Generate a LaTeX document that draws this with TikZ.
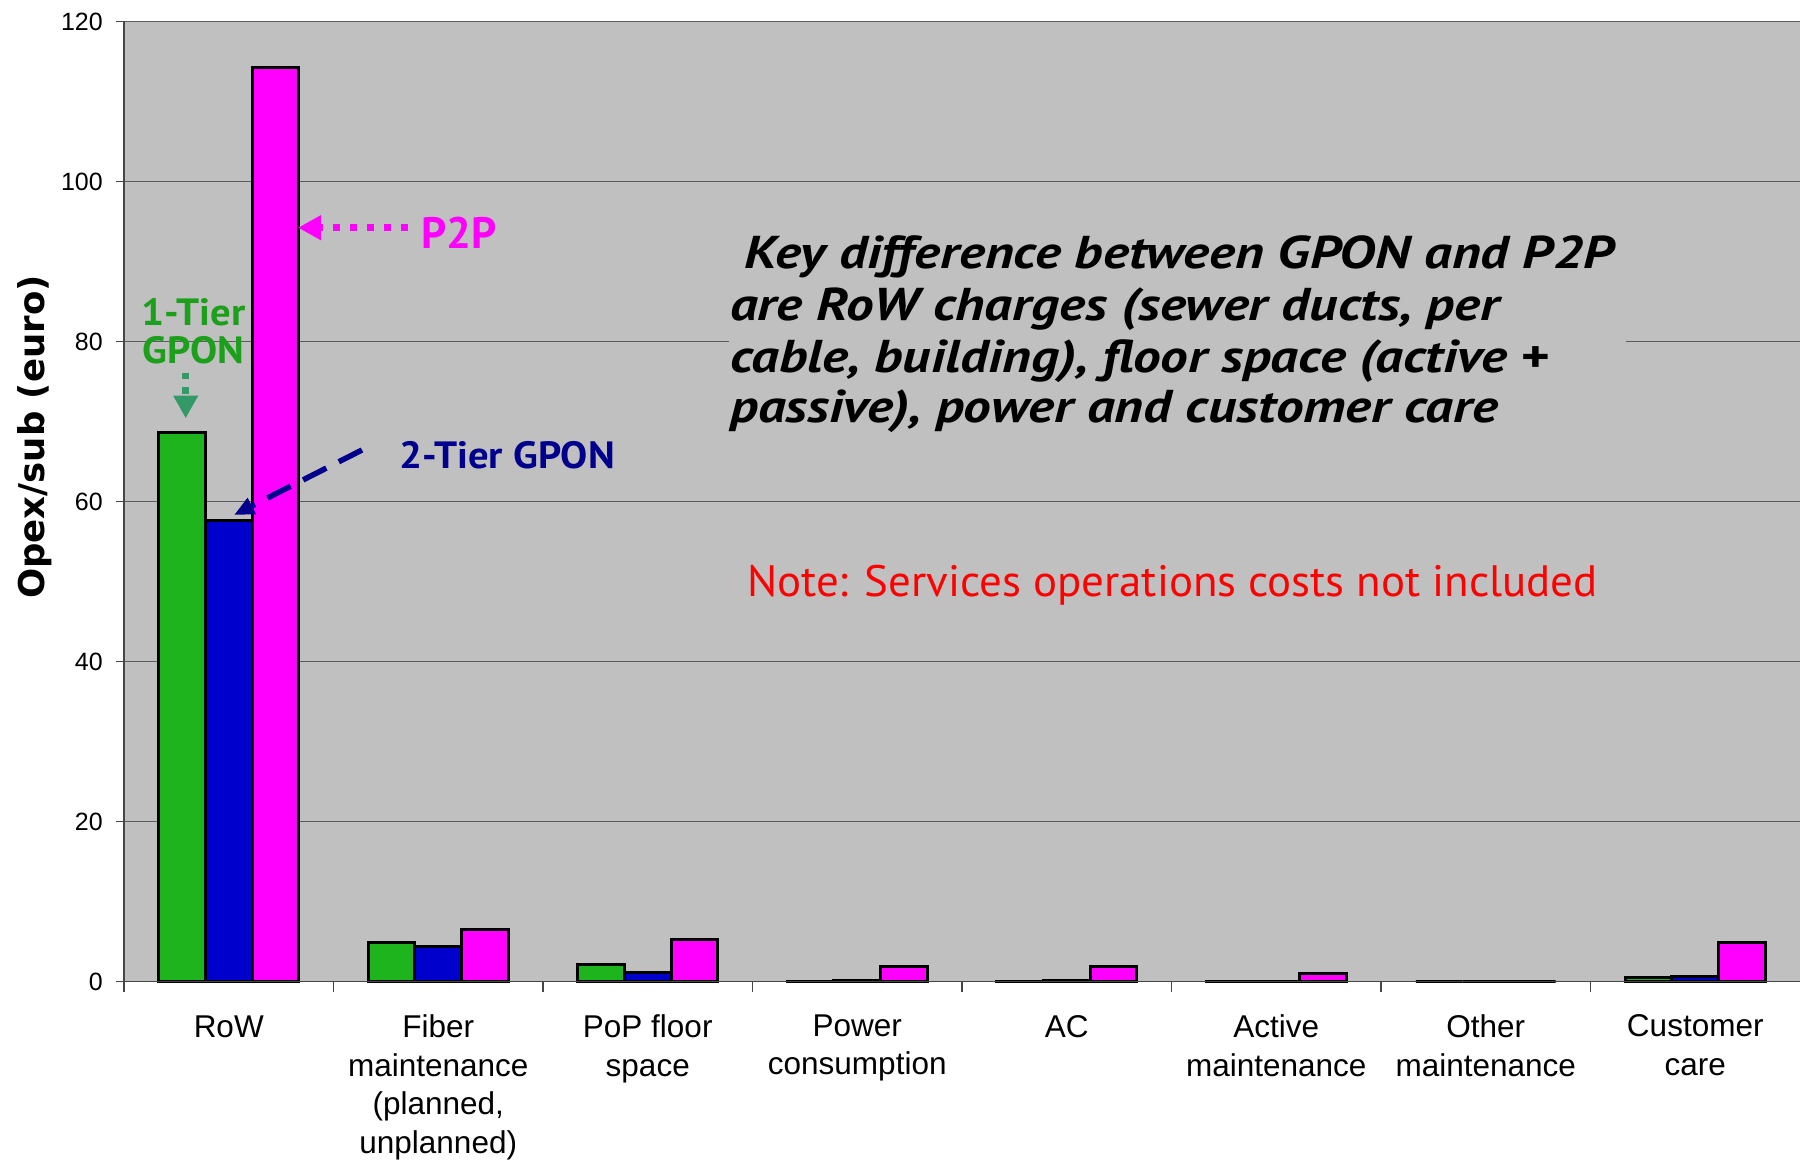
\documentclass[tikz,border=0pt]{standalone}
\usepackage{fontspec}
\setmainfont{Liberation Sans}
\newfontfamily\calloutfont[FakeStretch=1.07]{PT Sans}
\newfontfamily\ptpfont{PT Sans}
\newfontfamily\notefont[FakeStretch=1.02]{PT Sans}
\newfontfamily\keyfont[FakeStretch=1.2]{PT Sans}
\newfontfamily\axisfont{DejaVu Sans}
\usetikzlibrary{arrows.meta}

\definecolor{plotbg}{RGB}{192,192,192}
\definecolor{gridc}{RGB}{92,92,92}
\definecolor{axisc}{RGB}{70,70,70}
\definecolor{tiergreen}{RGB}{30,180,30}
\definecolor{tierblue}{RGB}{0,0,205}
\definecolor{ptpmag}{RGB}{255,0,255}
\definecolor{lblgreen}{RGB}{28,160,28}
\definecolor{arrgreen}{RGB}{51,153,102}
\definecolor{navyc}{RGB}{0,0,140}
\definecolor{notered}{RGB}{255,0,0}

\tikzset{
  gridline/.style={draw=gridc, line width=1.8pt},
  axisline/.style={draw=axisc, line width=1.8pt},
  barbox/.style={draw=black, line width=3pt},
  ticklabel/.style={anchor=east, inner sep=0pt, font=\fontsize{25}{30}\selectfont},
  catlabel/.style={anchor=north, inner sep=0pt, align=center,
    font=\fontsize{31.5}{38.6}\selectfont, execute at begin node={\vphantom{Ab}}},
  callout/.style={inner sep=0pt, font=\calloutfont\bfseries\fontsize{38}{38}\selectfont},
  keyline/.style={anchor=base west, inner sep=0pt,
    font=\keyfont\bfseries\itshape\fontsize{46}{46}\selectfont},
}

\begin{document}
\begin{tikzpicture}[x=1pt, y=-1pt]
\useasboundingbox (0,0) rectangle (1800,1161);
\fill[white] (0,0) rectangle (1800,1161);

% plot area and grid
\fill[plotbg] (124,21.5) rectangle (1800,981.5);
\foreach \v in {20,40,...,120}
  \draw[gridline] (124,{981.5-8*\v}) -- (1800,{981.5-8*\v});

% background of the text box hides the grid line behind it
\fill[plotbg] (729,300) rectangle (1626,400);

% bars: category index / 1-tier GPON / 2-tier GPON / P2P
\foreach \i/\g/\b/\m in {0/68.6/57.6/114.3, 1/4.85/4.4/6.45, 2/2.1/1.15/5.3,
    3/0.05/0.15/1.85, 4/0.05/0.15/1.85, 5/0.02/0.02/1.0, 6/0/0/0, 7/0.5/0.6/4.9}{
  \pgfmathsetmacro\xa{124+209.5*\i+34.9}
  \draw[barbox, fill=tiergreen] (\xa,981.5) rectangle ({\xa+46.55},{981.5-8*\g});
  \draw[barbox, fill=tierblue] ({\xa+46.55},981.5) rectangle ({\xa+93.1},{981.5-8*\b});
  \draw[barbox, fill=ptpmag] ({\xa+93.1},981.5) rectangle ({\xa+139.65},{981.5-8*\m});
}

% axes and ticks
\draw[axisline] (124,21.5) -- (124,981.5) -- (1800,981.5);
\foreach \v in {0,20,...,120}{
  \draw[axisline] (116,{981.5-8*\v}) -- (124,{981.5-8*\v});
  \node[ticklabel] (ytick\v) at (103,{981.5-8*\v}) {\v};
}
\foreach \i in {0,...,7}
  \draw[axisline] ({124+209.5*\i},981.5) -- ({124+209.5*\i},991.5);

% category labels
\foreach \i/\txt in {0/RoW, 1/{Fiber\\maintenance\\(planned,\\unplanned)},
    2/{PoP floor\\space}, 3/{Power\\consumption}, 4/AC,
    5/{Active\\maintenance}, 6/{Other\\maintenance}, 7/{Customer\\care}}
  \node[catlabel] (cat\i) at ({124+209.5*(\i+0.5)},1014.5) {\txt};

% y axis title
\node[rotate=90, inner sep=0pt, font=\axisfont\bfseries\fontsize{35.5}{42}\selectfont]
  (ytitle) at (35,437) {Opex/sub (euro)};

% callouts
\node[callout, text=lblgreen, anchor=base] (tierone) at (193.5,325) {1-Tier};
\node[callout, text=lblgreen, anchor=base] (tieronegpon) at (193.5,363.3) {GPON};
\coordinate (tieronefrom) at (185.7,372.7);
\coordinate (tieroneto) at (185.7,418.3);
\draw[arrgreen, line width=6.5pt, dash pattern=on 6.6pt off 8pt,
  -{Triangle[length=22.6pt, width=23.3pt]}] (tieronefrom) -- (tieroneto);

\node[anchor=base west, inner sep=0pt, text=ptpmag,
  font=\ptpfont\bfseries\fontsize{44}{44}\selectfont]
  (ptplabel) at (421,249) {P2P};
\coordinate (ptpfrom) at (408,227.7);
\coordinate (ptpto) at (298,227.7);
\draw[ptpmag, line width=7pt, dash pattern=on 7pt off 10pt,
  -{Triangle[length=23pt, width=23.5pt]}] (ptpfrom) -- (ptpto);

\node[callout, text=navyc, anchor=base west] (tiertwo) at (399,468) {2-Tier GPON};
\coordinate (tiertwofrom) at (362,450);
\coordinate (tiertwoto) at (234,515);
\draw[navyc, line width=5.5pt, dash pattern=on 26pt off 14pt,
  -{Triangle[length=20pt, width=17pt]}] (tiertwofrom) -- (tiertwoto);

% key message
\node[keyline] (keya) at (744,269) {Key difference between GPON and P2P};
\node[keyline] (keyb) at (730,320.7) {are RoW charges (sewer ducts, per};
\node[keyline] (keyc) at (730,372) {cable, building), floor space (active +};
\node[keyline] (keyd) at (730,422.7) {passive), power and customer care};

\node[anchor=base west, inner sep=0pt, text=notered,
  font=\notefont\fontsize{44}{44}\selectfont]
  (note) at (747,596) {Note: Services operations costs not included};
\end{tikzpicture}
\end{document}
